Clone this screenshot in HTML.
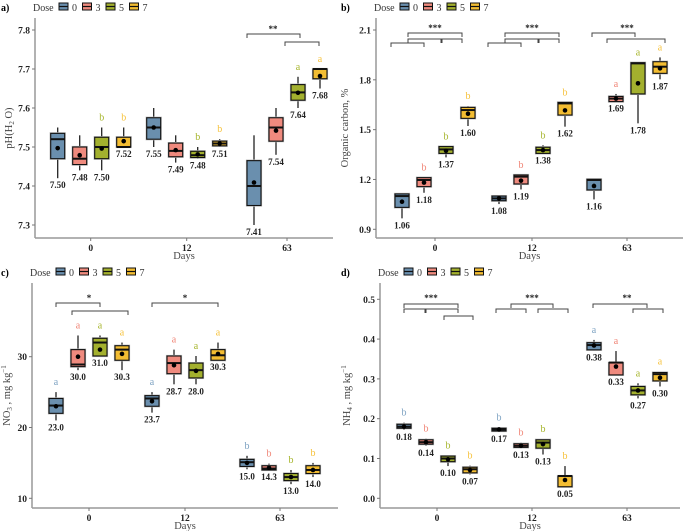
<!DOCTYPE html>
<html><head><meta charset="utf-8"><style>
html,body{margin:0;padding:0;background:#fff}
svg{display:block;font-family:"Liberation Serif",serif}
</style></head><body>
<svg id="fig" width="685" height="531" viewBox="0 0 685 531" xmlns="http://www.w3.org/2000/svg"></svg>
<script>
const days = ["0","12","63"];
const doses = ["0","3","5","7"];
const fills = ["#6a8fae","#ef8a7e","#a3b02e","#f3bd32"];
const letterCols = ["#7da2c2","#f08475","#a6b52c","#f6c23c"];

// Panel a: pH
const aLow  = [7.42,7.44,7.44,7.50, 7.50,7.46,7.47,7.50, 7.30,7.48,7.60,7.65];
const aQ1   = [7.47,7.455,7.47,7.50, 7.52,7.475,7.473,7.503, 7.35,7.515,7.62,7.675];
const aMed  = [7.52,7.47,7.50,7.50, 7.55,7.49,7.479,7.509, 7.40,7.55,7.64,7.70];
const aQ3   = [7.535,7.50,7.525,7.525, 7.575,7.51,7.489,7.515, 7.465,7.575,7.66,7.70];
const aHigh = [7.55,7.53,7.55,7.55, 7.60,7.53,7.50,7.52, 7.53,7.60,7.68,7.70];
const aMean = [7.497,7.479,7.496,7.515, 7.55,7.492,7.481,7.509, 7.409,7.542,7.639,7.682];
const aLabels = ["7.50","7.48","7.50","7.52","7.55","7.49","7.48","7.51","7.41","7.54","7.64","7.68"];
const aLetters = ["","","b","b","","","b","b","","","a","a"];
const aTicks = [7.3,7.4,7.5,7.6,7.7,7.8];
const aTickLabels = ["7.3","7.4","7.5","7.6","7.7","7.8"];

// Panel b: Organic carbon
const bLow  = [0.966,1.12,1.333,1.522, 1.052,1.14,1.357,1.518, 1.08,1.669,1.538,1.803];
const bQ1   = [1.032,1.157,1.357,1.568, 1.072,1.173,1.357,1.588, 1.137,1.669,1.715,1.839];
const bMed  = [1.10,1.197,1.381,1.618, 1.086,1.217,1.377,1.658, 1.197,1.687,1.899,1.879];
const bQ3   = [1.113,1.211,1.398,1.634, 1.10,1.227,1.394,1.664, 1.201,1.70,1.903,1.909];
const bHigh = [1.113,1.211,1.40,1.642, 1.10,1.227,1.406,1.664, 1.201,1.715,1.903,1.935];
const bMean = [1.066,1.181,1.373,1.596, 1.086,1.193,1.377,1.616, 1.161,1.687,1.779,1.869];
const bLabels = ["1.06","1.18","1.37","1.60","1.08","1.19","1.38","1.62","1.16","1.69","1.78","1.87"];
const bLetters = ["","b","b","b","","b","b","b","","a","a","a"];
const bTicks = [0.9,1.2,1.5,1.8,2.1];
const bTickLabels = ["0.9","1.2","1.5","1.8","2.1"];

// Panel c: NO3
const cLow  = [21.0,28.1,30.1,28.1, 22.1,26.1,26.1,29.5, 14.1,14.0,12.0,13.0];
const cQ1   = [22.0,28.6,30.1,29.5, 23.0,27.6,27.0,29.5, 14.5,14.0,12.5,13.5];
const cMed  = [23.1,28.9,32.0,31.0, 24.1,29.1,28.1,30.2, 15.1,14.2,13.0,14.0];
const cQ3   = [24.1,31.0,32.6,31.55, 24.5,30.1,29.1,31.0, 15.5,14.6,13.5,14.6];
const cHigh = [25.0,33.0,33.0,32.0, 25.0,31.0,30.1,32.0, 16.0,14.9,14.0,15.0];
const cMean = [23.0,30.0,31.0,30.4, 23.7,28.8,28.0,30.4, 15.0,14.3,13.0,14.0];
const cLabels = ["23.0","30.0","31.0","30.3","23.7","28.7","28.0","30.3","15.0","14.3","13.0","14.0"];
const cLetters = ["a","a","a","a","a","a","a","a","b","b","b","b"];
const cTicks = [10,20,30];
const cTickLabels = ["10","20","30"];

// Panel d: NH4
const dLow  = [0.172,0.132,0.081,0.06, 0.167,0.126,0.11,0.029, 0.371,0.31,0.251,0.281];
const dQ1   = [0.176,0.136,0.092,0.064, 0.169,0.128,0.126,0.029, 0.373,0.31,0.26,0.295];
const dMed  = [0.18,0.141,0.10,0.073, 0.173,0.132,0.14,0.056, 0.385,0.341,0.271,0.312];
const dQ3   = [0.186,0.147,0.106,0.078, 0.176,0.137,0.147,0.056, 0.391,0.341,0.281,0.316];
const dHigh = [0.19,0.15,0.108,0.082, 0.178,0.14,0.149,0.081, 0.398,0.37,0.289,0.318];
const dMean = [0.18,0.141,0.098,0.071, 0.173,0.132,0.136,0.046, 0.384,0.331,0.271,0.303];
const dLabels = ["0.18","0.14","0.10","0.07","0.17","0.13","0.13","0.05","0.38","0.33","0.27","0.30"];
const dLetters = ["b","b","b","b","b","b","b","b","a","a","a","a"];
const dTicks = [0,0.1,0.2,0.3,0.4,0.5];
const dTickLabels = ["0.0","0.1","0.2","0.3","0.4","0.5"];

const NS = "http://www.w3.org/2000/svg";
const svg = document.getElementById("fig");
function mk(tag, attrs, parent, txt){
  const e = document.createElementNS(NS, tag);
  for (const k in attrs) e.setAttribute(k, attrs[k]);
  if (txt !== undefined) e.textContent = txt;
  (parent || svg).appendChild(e);
  return e;
}

const doseOff = [-33,-11,11,33];
const BW = 14;

function drawPanel(p){
  const g = mk("g", {});
  
  
  const ys = v => p.y0 + (v - p.v0) * (p.y1 - p.y0) / (p.v1 - p.v0);
  const xs = (di, k) => p.dayX[di] + doseOff[k];

  const tg = mk("text", {x:p.ox+1, y:p.oy+11, "font-size":10, "font-weight":"bold", fill:"#000"}, g, p.tag);
  
  

  const lg = mk("g", {}, g);
  
  
  const lx = p.left - 2, ly = p.oy + 11;
  mk("text", {x:lx, y:ly, "font-size":10, fill:"#333"}, lg, "Dose");
  for (let k=0;k<4;k++){
    const kx = lx + 26 + k*23.5;
    const ent = mk("g", {}, lg);
    
    
    mk("rect", {x:kx, y:ly-8, width:9, height:7, fill:fills[k], stroke:"#111", "stroke-width":1}, ent);
    mk("line", {x1:kx, x2:kx+9, y1:ly-4.5, y2:ly-4.5, stroke:"#111", "stroke-width":1.2}, ent);
    mk("text", {x:kx+13, y:ly, "font-size":10, fill:"#333"}, ent, doses[k]);
  }

  const ax = mk("g", {}, g);
  
  
  mk("line", {x1:p.left, x2:p.left, y1:p.top, y2:p.bottom, stroke:"#999", "stroke-width":1.5}, ax);
  mk("line", {x1:p.left, x2:p.right, y1:p.bottom, y2:p.bottom, stroke:"#999", "stroke-width":1.5}, ax);
  p.ticks.forEach((t,i)=>{
    const y = ys(t);
    mk("line", {x1:p.left-3, x2:p.left, y1:y, y2:y, stroke:"#777", "stroke-width":1}, ax);
    const tl = mk("text", {x:p.left-5, y:y+3.5, "font-size":9.5, "font-weight":"bold", "text-anchor":"end", fill:"#222"}, ax, p.tickLabels[i]);
    
    
  });
  days.forEach((d,i)=>{
    const x = p.dayX[i];
    mk("line", {x1:x, x2:x, y1:p.bottom, y2:p.bottom+3, stroke:"#777", "stroke-width":1}, ax);
    const tl = mk("text", {x:x, y:p.bottom+13, "font-size":9.5, "font-weight":"bold", "text-anchor":"middle", fill:"#222"}, ax, d);
    
    
  });
  const xt = mk("text", {x:(p.left+p.right)/2, y:p.bottom+21, "font-size":10.5, "text-anchor":"middle", fill:"#444"}, ax, "Days");
  
  
  const ytx = p.ox + p.ytitleX, yty = (p.top + p.bottom)/2;
  const yt = mk("text", {x:ytx, y:yty, "font-size":10.5, "text-anchor":"middle", fill:"#444", transform:`rotate(-90 ${ytx} ${yty})`}, ax);
  yt.innerHTML = p.ytitle;
  
  

  p.brackets.forEach(b=>{
    const bg = mk("g", {}, g);
    
    
    mk("path", {d:`M${b[0]},${b[2]+4} V${b[2]} H${b[1]} V${b[2]+4}`, fill:"none", stroke:"#444", "stroke-width":1}, bg);
  });
  p.stars.forEach(s=>{
    const st = mk("text", {x:s[0], y:s[1], "font-size":9, "font-weight":"bold", "text-anchor":"middle", fill:"#222"}, g, s[2]);
    
    
  });

  for (let di=0; di<3; di++){
    for (let k=0;k<4;k++){
      const i = di*4+k;
      const x = xs(di,k);
      const bx = mk("g", {}, g);
      
      
      mk("line", {x1:x, x2:x, y1:ys(p.high[i]), y2:ys(p.low[i]), stroke:"#222", "stroke-width":1.3}, bx);
      const yq3 = ys(p.q3[i]), yq1 = ys(p.q1[i]);
      mk("rect", {x:x-BW/2, y:yq3, width:BW, height:Math.max(1,yq1-yq3), fill:fills[k], stroke:"#bbb", "stroke-width":2.2}, bx);
      mk("rect", {x:x-BW/2, y:yq3, width:BW, height:Math.max(1,yq1-yq3), fill:fills[k], stroke:"#111", "stroke-width":1.1}, bx);
      mk("line", {x1:x-BW/2, x2:x+BW/2, y1:ys(p.med[i]), y2:ys(p.med[i]), stroke:"#111", "stroke-width":2}, bx);
      mk("circle", {cx:x, cy:ys(p.mean[i]), r:2.3, fill:"#000"}, bx);
      const lb = mk("text", {x:x, y:ys(p.low[i])+10, "font-size":9, "font-weight":"bold", "text-anchor":"middle", fill:"#222"}, g, p.labels[i]);
      
      
      if (p.letters[i]){
        const lt = mk("text", {x:x, y:ys(p.high[i])-7, "font-size":10, "text-anchor":"middle", fill:letterCols[k]}, g, p.letters[i]);
        
        
      }
    }
  }
}

drawPanel({name:"panel-a-ph", tag:"a)", ox:0, oy:0, left:35, right:333, top:18, bottom:238,
  v0:7.8, y0:30, v1:7.3, y1:225, dayX:[90.7,186.7,287],
  ticks:aTicks, tickLabels:aTickLabels, ytitleX:12, ytitle:"pH(H<tspan font-size='7' dy='2'>2</tspan><tspan dy='-2'> O)</tspan>",
  low:aLow,q1:aQ1,med:aMed,q3:aQ3,high:aHigh,mean:aMean,labels:aLabels,letters:aLetters,
  brackets:[[247,300,34],[285,319,42]], stars:[[273,32,"**"]]});

drawPanel({name:"panel-b-organic-carbon", tag:"b)", ox:340, oy:0, left:376, right:683, top:18, bottom:238,
  v0:2.1, y0:30, v1:0.9, y1:229.3, dayX:[435,532,627],
  ticks:bTicks, tickLabels:bTickLabels, ytitleX:8, ytitle:"Organic carbon, %",
  low:bLow,q1:bQ1,med:bMed,q3:bQ3,high:bHigh,mean:bMean,labels:bLabels,letters:bLetters,
  brackets:[[408,462,33],[408,441,39],[442,462,39],[391,424,43],
            [505,559,33],[505,538,39],[539,559,39],[488,521,43],
            [592,635,33],[607,665,39]],
  stars:[[435,31,"***"],[532,31,"***"],[627,31,"***"]]});

drawPanel({name:"panel-c-no3", tag:"c)", ox:0, oy:265, left:32, right:338, top:283, bottom:508,
  v0:30, y0:356.7, v1:10, y1:498.3, dayX:[89,185,280],
  ticks:cTicks, tickLabels:cTickLabels, ytitleX:10, ytitle:"NO<tspan font-size='7' dy='2'>3</tspan><tspan dy='-2'> , mg kg</tspan><tspan font-size='7' dy='-4'>−1</tspan>",
  low:cLow,q1:cQ1,med:cMed,q3:cQ3,high:cHigh,mean:cMean,labels:cLabels,letters:cLetters,
  brackets:[[56,100,303],[72,128,311],[152,218,303]],
  stars:[[89,301,"*"],[185,301,"*"]]});

drawPanel({name:"panel-d-nh4", tag:"d)", ox:340, oy:265, left:380, right:680, top:283, bottom:508,
  v0:0.5, y0:299.3, v1:0, y1:498.3, dayX:[437,532,627],
  ticks:dTicks, tickLabels:dTickLabels, ytitleX:10, ytitle:"NH<tspan font-size='7' dy='2'>4</tspan><tspan dy='-2'> , mg kg</tspan><tspan font-size='7' dy='-4'>−1</tspan>",
  low:dLow,q1:dQ1,med:dMed,q3:dQ3,high:dHigh,mean:dMean,labels:dLabels,letters:dLetters,
  brackets:[[404,458,304],[404,425,309],[426,458,309],[444,473,316],
            [511,553,304],[496,526,309],[538,568,309],
            [593,647,304],[633,663,309]],
  stars:[[431,301,"***"],[532,301,"***"],[627,301,"**"]]});
</script>
</body></html>
